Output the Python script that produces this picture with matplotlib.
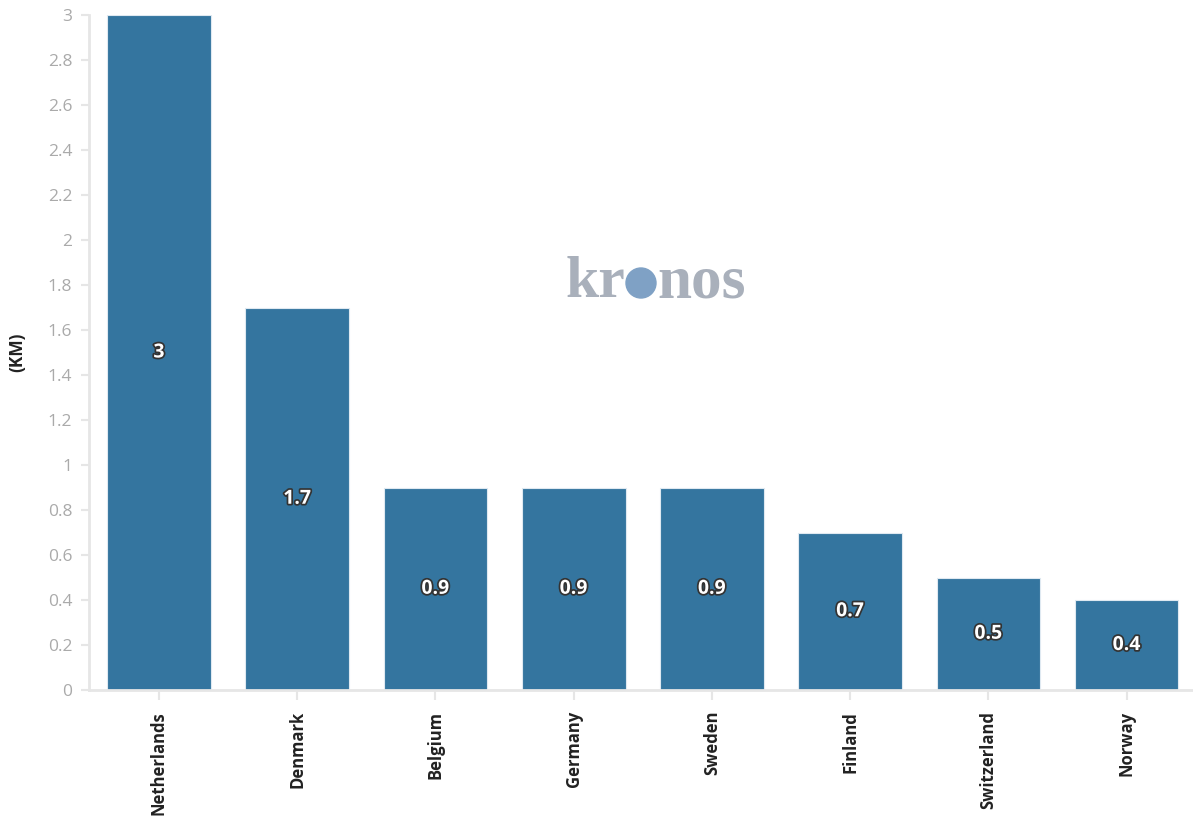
import matplotlib
matplotlib.use("Agg")
import matplotlib.pyplot as plt
import matplotlib.patheffects as pe
from matplotlib.patches import Ellipse

countries = ["Netherlands", "Denmark", "Belgium", "Germany", "Sweden",
             "Finland", "Switzerland", "Norway"]
values = [3, 1.7, 0.9, 0.9, 0.9, 0.7, 0.5, 0.4]
value_labels = ["3", "1.7", "0.9", "0.9", "0.9", "0.7", "0.5", "0.4"]
yticks = [0, 0.2, 0.4, 0.6, 0.8, 1, 1.2, 1.4, 1.6, 1.8, 2, 2.2, 2.4, 2.6, 2.8, 3]
ytick_labels = ["0", "0.2", "0.4", "0.6", "0.8", "1", "1.2", "1.4", "1.6",
                "1.8", "2", "2.2", "2.4", "2.6", "2.8", "3"]

plt.rcParams['font.family'] = ['Open Sans', 'DejaVu Sans']

bar_color = "#34759f"
grid_gray = "#e6e6e6"
W, H = 1193, 819

fig = plt.figure(figsize=(W / 100, H / 100), dpi=100)
ax = fig.add_axes([89 / W, 1 - 690 / H, 1 - 89 / W, 675 / H])

x = range(len(countries))
ax.bar(x, values, width=0.75, color=bar_color, edgecolor="#dfe9f1", linewidth=0.8, zorder=2)

# labels in the middle of each bar, white with dark outline
for i, (v, lab) in enumerate(zip(values, value_labels)):
    ax.text(i, v / 2, lab, ha="center", va="center", color="white",
            fontsize=14, fontweight="bold", zorder=3,
            path_effects=[pe.withStroke(linewidth=2.5, foreground="#333333")])

ax.set_xlim(-0.506, 7.48)
ax.set_ylim(0, 3)
ax.set_yticks(yticks)
ax.set_yticklabels(ytick_labels)
ax.set_xticks(list(x))
ax.set_xticklabels(countries, rotation=90, fontweight="bold", fontsize=12, color="#222222")

ax.tick_params(axis="y", colors=grid_gray, labelcolor="#aaaaaa", labelsize=12.5,
               length=6, width=1.5, pad=6)
ax.tick_params(axis="x", colors=grid_gray, labelcolor="#222222", length=7, width=1.5, pad=8)

for s in ["top", "right"]:
    ax.spines[s].set_visible(False)
for s in ["left", "bottom"]:
    ax.spines[s].set_color(grid_gray)
    ax.spines[s].set_linewidth(2)

ax.set_ylabel("(KM)", fontsize=12.5, fontweight="bold", color="#222222")
ax.yaxis.set_label_coords(-0.057, 0.5)

# kronos watermark
cy = 1 - 283 / H
fig.text(625 / W, cy, "kr", ha="right", va="center", fontsize=43,
         fontweight="bold", family="Liberation Serif", color="#a9b0bb")
fig.patches.append(Ellipse((641 / W, cy), 30 / W, 30 / H, transform=fig.transFigure,
                           color="#7fa1c5", figure=fig))
fig.text(657 / W, cy, "nos", ha="left", va="center", fontsize=44,
         fontweight="bold", family="Liberation Serif", color="#a9b0bb")

fig.savefig("out.png", dpi=100)
